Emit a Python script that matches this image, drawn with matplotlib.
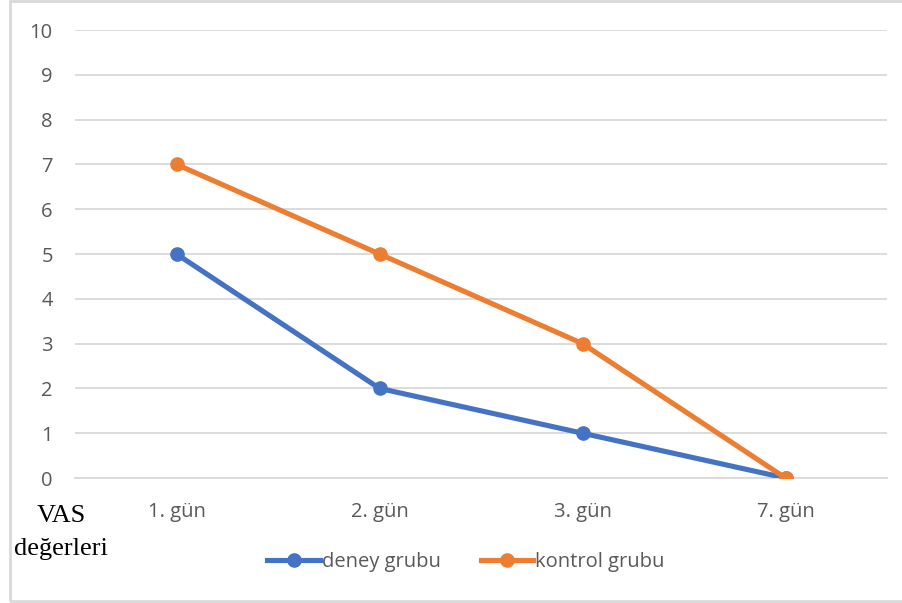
import matplotlib.pyplot as plt
from matplotlib.lines import Line2D
from matplotlib.patches import Rectangle

days = ['1. gün', '2. gün', '3. gün', '7. gün']
deney = [5, 2, 1, 0]
kontrol = [7, 5, 3, 0]
y_ticks = list(range(0, 11))

blue = '#4472C4'
orange = '#ED7D31'
grey = '#595959'

fig = plt.figure(figsize=(9.02, 6.03), dpi=100)
ax = fig.add_axes([75/902, 1-478/603, 812/902, 448/603])

x = range(len(days))
ax.plot(x, deney, color=blue, lw=3.7, marker='o', ms=9.5, label='deney grubu', zorder=3)
ax.plot(x, kontrol, color=orange, lw=3.7, marker='o', ms=9.5, label='kontrol grubu', zorder=3)

ax.set_xlim(-0.5, len(days)-0.5)
ax.set_ylim(0, 10)
ax.set_yticks(y_ticks)
ax.set_xticks(list(x))
ax.set_xticklabels(days)
ax.tick_params(length=0, labelsize=14.5, colors=grey, pad=17)
ax.tick_params(axis='y', pad=16)
for lab in ax.get_xticklabels() + ax.get_yticklabels():
    lab.set_family('Open Sans')
ax.grid(axis='y', color='#D9D9D9', lw=1.3)
ax.set_axisbelow(True)
for s in ax.spines.values():
    s.set_visible(False)
ax.spines['bottom'].set_visible(True)
ax.spines['bottom'].set_color('#D9D9D9')
ax.spines['bottom'].set_linewidth(1.3)

fig.text(61/902, 1-516/603, 'VAS', ha='center', va='center', fontsize=19,
         family='Liberation Serif', color='black')
fig.text(61/902, 1-549/603, 'değerleri', ha='center', va='center', fontsize=19,
         family='Liberation Serif', color='black')

handles = [Line2D([], [], color=blue, lw=3.7, marker='o', ms=9.5),
           Line2D([], [], color=orange, lw=3.7, marker='o', ms=9.5)]
fig.legend(handles, ['deney grubu', 'kontrol grubu'], loc='center',
           bbox_to_anchor=(466/902, 1-562/603), ncol=2, frameon=False,
           prop={'family': 'Open Sans', 'size': 14.5}, labelcolor=grey,
           handlelength=2.6, handletextpad=0.1, columnspacing=2.0)

fig.patches.append(Rectangle((10/902, 0.004), 1.0, 0.994, transform=fig.transFigure,
                             fill=False, edgecolor='#D9D9D9', lw=2))

fig.savefig('out.png', dpi=100)
